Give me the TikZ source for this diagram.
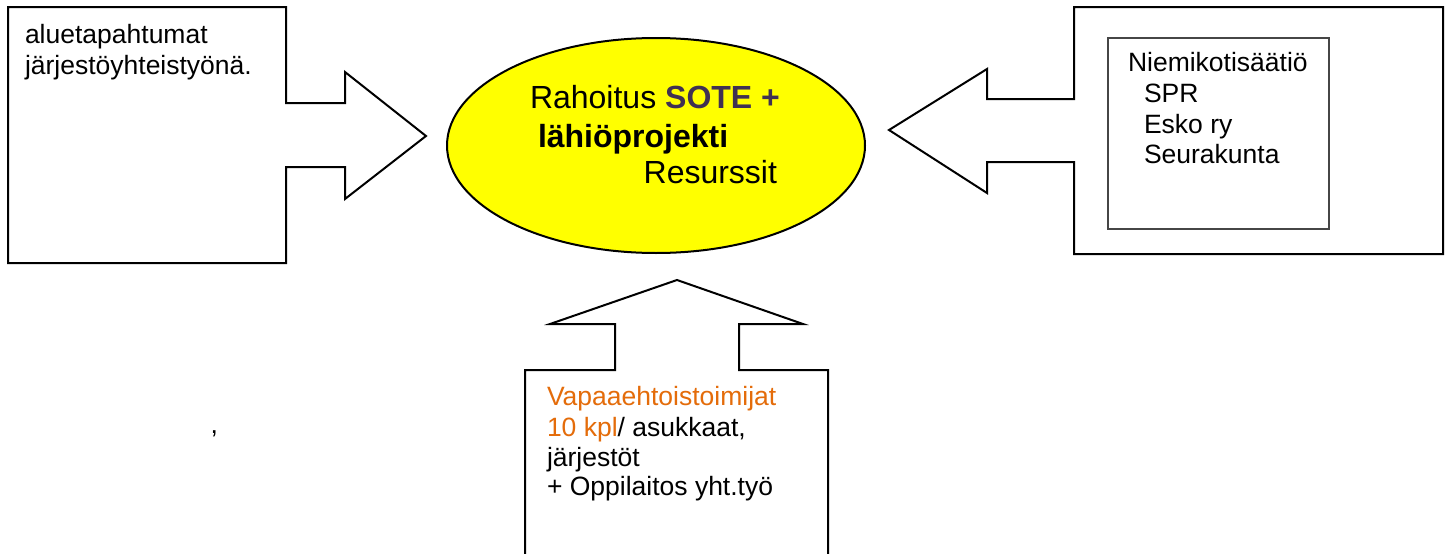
\documentclass[tikz,border=0pt]{standalone}
\usepackage{fontspec}
\setmainfont{Liberation Sans}
\usetikzlibrary{shapes.geometric}
\definecolor{sotepurple}{RGB}{64,49,82}
\definecolor{volorange}{RGB}{228,108,10}
\definecolor{innergray}{RGB}{70,70,70}
\definecolor{pureyellow}{RGB}{255,255,0}
\tikzset{
  callout/.style={draw=black, line width=2pt, line join=miter, fill=white},
  txt/.style={inner sep=0pt, outer sep=0pt, anchor=base west, font=\fontsize{26.5}{30.5}\selectfont},
  bigtxt/.style={inner sep=0pt, outer sep=0pt, font=\fontsize{32}{37.5}\selectfont},
}
\begin{document}
\begin{tikzpicture}[x=1pt,y=-1pt]
\useasboundingbox (0,0) rectangle (1451,554);
\fill[white] (0,0) rectangle (1451,554);

% left callout
\draw[callout] (8,7) -- (286,7) -- (286,103) -- (345,103) -- (345,72) -- (426,136)
  -- (345,199) -- (345,167) -- (286,167) -- (286,263) -- (8,263) -- cycle;
% right callout
\draw[callout] (1443,7) -- (1074,7) -- (1074,99) -- (987,99) -- (987,69) -- (889,130)
  -- (987,193) -- (987,162) -- (1074,162) -- (1074,254) -- (1443,254) -- cycle;
\draw[draw=innergray, line width=1.3pt] (1108,38) rectangle (1329,229);
% bottom callout (runs past the lower edge)
\draw[callout] (525,556) -- (525,370) -- (615,370) -- (615,324) -- (550,324) -- (677,280)
  -- (803,324) -- (739,324) -- (739,370) -- (828,370) -- (828,556);

% central ellipse
\node[ellipse, draw=black, line width=2pt, fill=pureyellow, minimum width=418pt, minimum height=215pt, inner sep=0pt] (res) at (656,145.5) {};
\node[bigtxt, anchor=base west] (r1) at (530,108) {Rahoitus \textbf{\color{sotepurple}SOTE +}};
\node[bigtxt, anchor=base west] (r2) at (538,147) {\textbf{lähiöprojekti}};
\node[bigtxt, anchor=base east] (r3) at (777,183) {Resurssit};

% left texts
\node[txt] (l1) at (25,43) {aluetapahtumat};
\node[txt] (l2) at (25,74) {järjestöyhteistyönä.};

% right texts
\node[txt] (n1) at (1128,71) {Niemikotisäätiö};
\node[txt] (n2) at (1144,102) {SPR};
\node[txt] (n3) at (1144,133) {Esko ry};
\node[txt] (n4) at (1144,163) {Seurakunta};

% bottom texts
\node[txt] (v1) at (547,405) {\color{volorange}Vapaaehtoistoimijat};
\node[txt] (v2) at (547,436) {{\color{volorange}10 kpl}/ asukkaat,};
\node[txt] (v3) at (547,466) {järjestöt};
\node[txt] (v4) at (547,495) {+ Oppilaitos yht.työ};

% stray comma
\node[txt] (comma) at (210.5,433) {,};
\end{tikzpicture}
\end{document}
